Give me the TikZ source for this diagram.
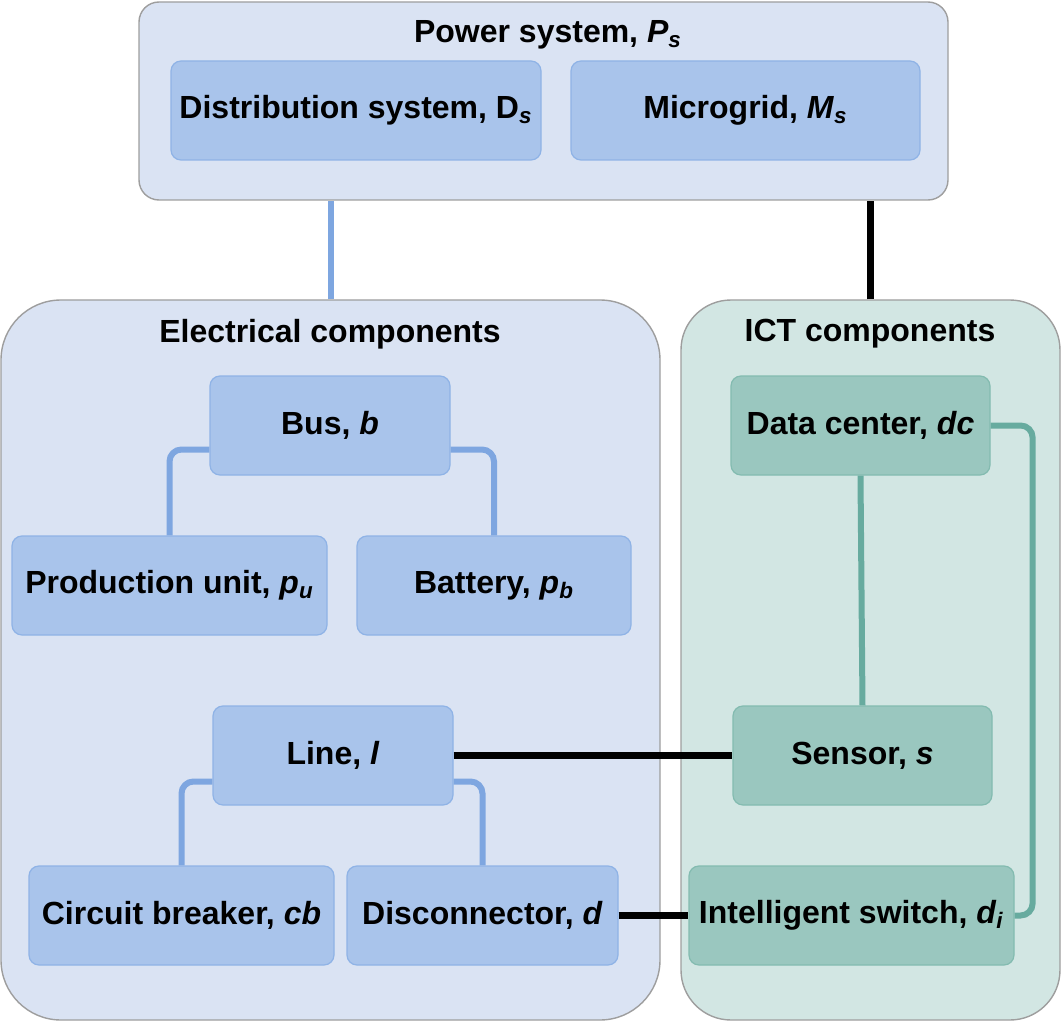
\documentclass[tikz,border=0pt]{standalone}
\usepackage{fontspec}
\setmainfont{Liberation Sans}
\definecolor{ECFill}  {HTML}{DAE3F3}
\definecolor{ECBox}   {HTML}{A9C4EB}
\definecolor{ECBoxDk} {HTML}{8FB3E6}
\definecolor{ECLine}  {HTML}{7EA6E0}
\definecolor{ICTFill} {HTML}{D2E6E3}
\definecolor{ICTBox}  {HTML}{9AC7BF}
\definecolor{ICTBoxDk}{HTML}{83BBB0}
\definecolor{ICTLine} {HTML}{67AB9F}
\definecolor{FrameGray}{HTML}{9E9E9E}

\begin{document}
\begin{tikzpicture}[x=0.5pt,y=-0.5pt,
    every node/.style={font=\fontsize{16}{19}\selectfont\bfseries,text=black},
    container/.style={draw=FrameGray,line width=0.7pt,inner sep=0pt},
    elbox/.style={draw=ECBoxDk,fill=ECBox,line width=0.6pt,rounded corners=5pt,
                  minimum height=49.5pt,inner sep=0pt},
    ictbox/.style={draw=ICTBoxDk,fill=ICTBox,line width=0.6pt,rounded corners=5pt,
                   minimum height=49.5pt,inner sep=0pt},
    elline/.style={draw=ECLine,line width=3pt,rounded corners=6pt},
    ictline/.style={draw=ICTLine,line width=3pt,rounded corners=6pt},
    couple/.style={draw=black,line width=3.5pt}]
    \useasboundingbox (0,0) rectangle (1062,1022);
    % Containers
    \node[container,fill=ECFill,rounded corners=10pt,minimum width=404.5pt,minimum height=99pt] (ps) at (543.5,101) {};
    \node[container,fill=ECFill,rounded corners=30pt,minimum width=329.5pt,minimum height=360pt] (ec) at (330.5,660) {};
    \node[container,fill=ICTFill,rounded corners=25pt,minimum width=189.5pt,minimum height=360pt] (ict) at (870.5,660) {};
    % Container titles
    \node (pstitle)  at (548,35)  {Power system, \textit{P}\textsubscript{\textit{s}}};
    \node (ectitle)  at (330,334) {Electrical components};
    \node (icttitle) at (870,334) {ICT components};
    % Power system parts
    \node[elbox,minimum width=185pt]   (ds) at (356,110.5)   {Distribution system, D\textsubscript{\textit{s}}};
    \node[elbox,minimum width=174.5pt] (mg) at (745.5,110.5) {Microgrid, \textit{M}\textsubscript{\textit{s}}};
    % Electrical components
    \node[elbox,minimum width=120pt]   (bus) at (330,425.5)   {Bus, \textit{b}};
    \node[elbox,minimum width=157.5pt] (pu)  at (169.5,585.5) {Production unit, \textit{p}\textsubscript{\textit{u}}};
    \node[elbox,minimum width=137pt]   (bat) at (494,585.5)   {Battery, \textit{p}\textsubscript{\textit{b}}};
    \node[elbox,minimum width=120pt]   (ln)  at (333,755.5)   {Line, \textit{l}};
    \node[elbox,minimum width=152.5pt] (cb)  at (181.5,915.5) {Circuit breaker, \textit{cb}};
    \node[elbox,minimum width=135.5pt] (dis) at (482.5,915.5) {Disconnector, \textit{d}};
    % ICT components
    \node[ictbox,minimum width=129.5pt] (dc)  at (860.5,425.5) {Data center, \textit{dc}};
    \node[ictbox,minimum width=129.5pt] (sen) at (862.5,755.5) {Sensor, \textit{s}};
    \node[ictbox,minimum width=162.5pt] (sw)  at (851.5,915.5) {Intelligent switch, \textit{d}\textsubscript{\textit{i}}};
    % Links to the power system
    \draw[elline,rounded corners=0pt] (ec.north) -- (ec.north |- ps.south);
    \draw[couple] (ict.north) -- (ict.north |- ps.south);
    % Electrical links
    \draw[elline] ([yshift=-12pt]bus.west) -| (pu.north);
    \draw[elline] ([yshift=-12pt]bus.east) -| (bat.north);
    \draw[elline] ([yshift=-13pt]ln.west) -| (cb.north);
    \draw[elline] ([yshift=-13pt]ln.east) -| (dis.north);
    % ICT links
    \draw[ictline] (dc.south) -- (sen.north);
    \draw[ictline] (dc.east) -- ++(21pt,0) |- (sw.east);
    % Cyber-physical couplings
    \draw[couple] (ln.east) -- (sen.west);
    \draw[couple] (dis.east) -- (sw.west);
\end{tikzpicture}
\end{document}
